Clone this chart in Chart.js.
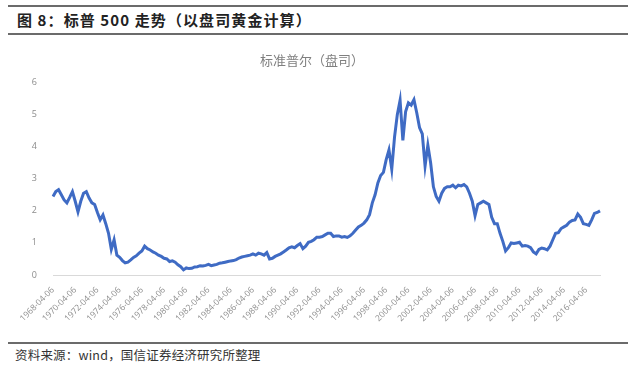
<!DOCTYPE html>
<html>
<head>
<meta charset="utf-8">
<script src="https://cdn.jsdelivr.net/npm/chart.js"></script>
<style>
  html, body { margin: 0; padding: 0; background: #fff; }
  body { width: 639px; height: 369px; position: relative; overflow: hidden; font-family: "Noto Sans CJK SC", sans-serif; }
  .rule { position: absolute; left: 8px; width: 620px; height: 2px; background: #6b6b6b; }
  #caption { position: absolute; left: 17px; top: 8px; font-size: 15px; font-weight: bold; color: #222; line-height: 24px; letter-spacing: 1.1px; }
  #source { position: absolute; left: 15px; top: 346px; font-size: 12.5px; color: #333; line-height: 18px; letter-spacing: 0.2px; }
  #chartSP { position: absolute; left: 0; top: 40px; }
</style>
</head>
<body>
<div class="rule" style="top:5px"></div>
<div id="caption">图 8：标普 500 走势（以盘司黄金计算）</div>
<div class="rule" style="top:33px"></div>

<canvas id="chartSP" width="625" height="300"></canvas>

<div class="rule" style="top:342px"></div>
<div id="source">资料来源：wind，国信证券经济研究所整理</div>

<script>
// ti so S&P 500 / gia vang, doc tu hinh, moi quy mot diem
const startYear = 1968, endYear = 2017;
const months = ['01', '04', '07', '10'];
const firstDate = '1968-04-06', lastDate = '2017-07-06';

const ratio = [
  2.45, 2.60, 2.66,                 // 1968
  2.50, 2.34, 2.25, 2.42,           // 1969
  2.60, 2.30, 1.97, 2.30,           // 1970
  2.55, 2.60, 2.40, 2.25,           // 1971
  2.20, 1.95, 1.72, 1.87,           // 1972
  1.60, 1.30, 0.80, 1.10,           // 1973
  0.62, 0.55, 0.45, 0.38,           // 1974
  0.40, 0.47, 0.55, 0.60,           // 1975
  0.68, 0.75, 0.90, 0.82,           // 1976
  0.78, 0.72, 0.68, 0.62,           // 1977
  0.58, 0.52, 0.50, 0.42,           // 1978
  0.44, 0.40, 0.32, 0.26,           // 1979
  0.16, 0.22, 0.20, 0.21,           // 1980
  0.25, 0.26, 0.29, 0.28,           // 1981
  0.30, 0.33, 0.29, 0.31,           // 1982
  0.33, 0.37, 0.38, 0.40,           // 1983
  0.42, 0.44, 0.45, 0.48,           // 1984
  0.53, 0.56, 0.58, 0.60,           // 1985
  0.62, 0.66, 0.62, 0.68,           // 1986
  0.66, 0.62, 0.70, 0.50,           // 1987
  0.52, 0.58, 0.62, 0.66,           // 1988
  0.72, 0.78, 0.85, 0.88,           // 1989
  0.85, 0.92, 0.98, 0.82,           // 1990
  0.90, 1.02, 1.05, 1.10,           // 1991
  1.18, 1.18, 1.20, 1.25,           // 1992
  1.30, 1.30, 1.20, 1.22,           // 1993
  1.22, 1.18, 1.20, 1.17,           // 1994
  1.22, 1.30, 1.40, 1.50,           // 1995
  1.55, 1.62, 1.72, 1.88,           // 1996
  2.25, 2.50, 2.87, 3.10,           // 1997
  3.20, 3.60, 3.90, 3.30,           // 1998
  4.30, 5.00, 5.45, 4.20,           // 1999
  5.10, 5.37, 5.30, 5.47,           // 2000
  5.06, 4.60, 4.40, 3.40,           // 2001
  4.05, 3.50, 2.75, 2.45,           // 2002
  2.30, 2.55, 2.70, 2.75,           // 2003
  2.75, 2.80, 2.72, 2.80,           // 2004
  2.78, 2.82, 2.75, 2.55,           // 2005
  2.30, 1.85, 2.20, 2.25,           // 2006
  2.30, 2.25, 2.20, 1.80,           // 2007
  1.60, 1.60, 1.30, 1.05,           // 2008
  0.75, 0.85, 1.00, 0.98,           // 2009
  1.00, 1.02, 0.90, 0.92,           // 2010
  0.90, 0.85, 0.72, 0.66,           // 2011
  0.80, 0.84, 0.82, 0.78,           // 2012
  0.90, 1.10, 1.30, 1.32,           // 2013
  1.45, 1.50, 1.55, 1.65,           // 2014
  1.70, 1.72, 1.90, 1.80,           // 2015
  1.60, 1.58, 1.55, 1.72,           // 2016
  1.92, 1.95, 2.00                  // 2017
];

const tickLabels = ['1968-04-06','1970-04-06','1972-04-06','1974-04-06','1976-04-06',
  '1978-04-06','1980-04-06','1982-04-06','1984-04-06','1986-04-06','1988-04-06',
  '1990-04-06','1992-04-06','1994-04-06','1996-04-06','1998-04-06','2000-04-06',
  '2002-04-06','2004-04-06','2006-04-06','2008-04-06','2010-04-06','2012-04-06',
  '2014-04-06','2016-04-06'];

let dates = [];
for (let y = startYear; y <= endYear; y++) {
  months.forEach(m => dates.push(y + '-' + m + '-06'));
}
dates = dates.slice(dates.indexOf(firstDate), dates.indexOf(lastDate) + 1);

let ctx = document.getElementById('chartSP').getContext('2d');
let myChart = new Chart(ctx, {
  type: 'line',
  data: {
    labels: dates,
    datasets: [{
      label: '标准普尔（盘司）',
      data: ratio,
      borderColor: '#3f6bc4',
      borderWidth: 3,
      pointRadius: 0,
      tension: 0,
      fill: false
    }]
  },
  options: {
    responsive: false,
    animation: false,
    layout: { padding: { left: 24, right: 25, top: 2, bottom: 0 } },
    plugins: {
      legend: { display: false },
      tooltip: { enabled: false },
      title: {
        display: true,
        text: '标准普尔（盘司）',
        color: '#7f7f7f',
        font: { size: 13, weight: 'normal', family: '"Noto Sans CJK SC"' },
        padding: { top: 10, bottom: 15 }
      }
    },
    scales: {
      x: {
        grid: { display: false },
        border: { display: true, color: '#d9d9d9', width: 1 },
        ticks: {
          autoSkip: false,
          minRotation: 45,
          maxRotation: 45,
          padding: 2,
          color: '#8c8c8c',
          font: { size: 8.5, family: '"Open Sans"' },
          callback: function (value) {
            let lab = this.getLabelForValue(value);
            return tickLabels.includes(lab) ? lab : '';
          }
        },
        afterFit: s => { s.height = 65; s.paddingLeft = 0; s.paddingRight = 0; }
      },
      y: {
        min: 0,
        max: 6,
        grid: { display: false },
        border: { display: false },
        ticks: {
          stepSize: 1,
          padding: 8,
          color: '#8c8c8c',
          font: { size: 9, family: '"Open Sans"' }
        },
        afterFit: s => { s.width = 29; }
      }
    }
  }
});
</script>
</body>
</html>
